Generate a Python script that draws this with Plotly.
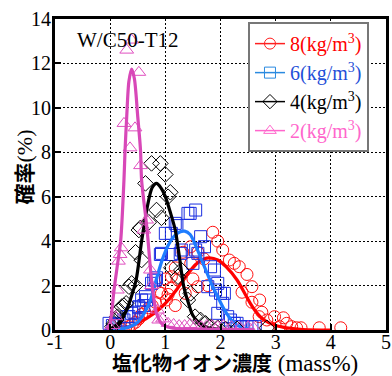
import plotly.graph_objects as go

# ---- data ----
red_x = [0.20,0.28,0.34,0.40,0.46,0.52,0.57,0.63,0.70,0.76,0.82,0.88,0.93,1.00,1.02,1.05,1.11,1.11,1.18,1.18,1.23,1.32,1.36,1.46,1.46,1.50,1.59,1.59,1.70,1.77,1.86,1.95,2.04,2.16,2.25,2.34,2.39,2.48,2.57,2.57,2.71,2.70,2.75,2.84,2.98,3.07,3.14,3.20,3.29,3.38,3.46,3.79,4.18]
red_y = [0.05,0.10,0.15,0.25,0.35,0.50,0.70,0.80,1.00,1.10,1.25,1.70,1.65,2.30,1.35,1.60,1.90,2.40,2.80,1.10,2.25,3.50,1.65,3.75,3.00,2.30,3.50,1.95,3.20,2.00,4.40,4.00,3.60,3.15,3.00,2.85,1.70,2.50,1.95,1.25,1.35,0.60,0.80,0.45,0.60,0.15,0.55,0.30,0.15,0.10,0.10,0.10,0.10]

blue_x = [-0.02,0.04,0.10,0.16,0.25,0.30,0.34,0.39,0.43,0.52,0.52,0.57,0.61,0.64,0.66,0.75,0.79,0.82,0.84,0.91,0.93,1.00,1.11,1.11,1.18,1.21,1.27,1.29,1.41,1.45,1.50,1.55,1.55,1.59,1.64,1.71,1.77,1.82,1.89,1.91,1.95,1.95,2.00,2.04,2.07,2.13,2.18,2.25,2.30,2.36,2.39,2.48,2.57,2.63]
blue_y = [0.30,0.20,0.25,0.30,0.45,0.60,0.60,0.75,0.80,1.00,1.05,1.35,1.10,1.50,1.35,2.10,2.25,2.25,2.35,3.40,3.45,4.35,4.35,3.40,4.80,4.70,3.45,3.60,5.25,5.25,3.00,5.40,3.60,3.45,4.20,3.75,1.95,2.85,2.70,1.80,2.10,0.75,1.65,1.20,1.65,0.60,0.45,0.30,0.30,0.15,0.15,0.15,0.15,0.15]

black_x = [0.04,0.07,0.11,0.13,0.16,0.21,0.25,0.29,0.34,0.39,0.46,0.46,0.52,0.55,0.57,0.64,0.70,0.75,0.84,0.91,0.93,1.00,1.05,1.09,1.11,1.23,1.29,1.41,1.46,1.54,1.64,1.73,1.82,1.95,2.09,2.30,2.84]
black_y = [0.15,0.30,0.45,0.60,0.90,1.05,1.10,1.20,1.95,2.10,2.00,3.50,4.50,4.60,3.15,6.60,4.85,7.50,5.40,7.50,5.05,7.00,6.00,6.20,2.80,2.40,2.70,1.35,1.65,0.60,0.45,0.30,0.15,0.10,0.05,0.05,0.10]

pink_x = [0.00,0.05,0.10,0.13,0.15,0.18,0.20,0.25,0.30,0.36,0.39,0.45,0.52,0.55,0.61,0.66,0.73,0.75,0.86,0.88,0.95,1.05,1.15,1.25,1.35,1.45,1.55,1.65,1.75,1.85,1.95,2.05,2.20,2.35,2.50,2.60]
pink_y = [0.10,0.20,0.60,1.80,3.10,3.40,3.70,9.30,12.60,8.20,13.05,9.10,11.60,7.40,4.50,4.95,2.70,2.00,0.90,0.45,0.50,0.30,0.25,0.20,0.20,0.25,0.20,0.15,0.20,0.20,0.15,0.20,0.15,0.10,0.15,0.10]

# fitted curves
red_fx = [0.0,0.2,0.5,0.8,1.0,1.2,1.4,1.55,1.7,1.8,1.95,2.1,2.3,2.45,2.54,2.65,2.79,3.0,3.2,3.5,4.0]
red_fy = [0.0,0.05,0.3,0.75,1.2,1.8,2.5,2.95,3.2,3.25,3.15,2.85,2.25,1.6,1.2,0.8,0.45,0.2,0.1,0.02,0.0]

blue_fx = [0.0,0.3,0.5,0.65,0.75,0.85,0.95,1.05,1.15,1.25,1.35,1.45,1.55,1.65,1.75,1.85,1.95,2.05,2.15,2.25,2.4,2.6]
blue_fy = [0.0,0.1,0.35,0.9,1.5,2.4,3.2,3.8,4.2,4.4,4.45,4.3,3.8,3.2,2.6,2.0,1.5,1.0,0.6,0.3,0.1,0.02]

black_fx = [0.0,0.15,0.27,0.37,0.47,0.57,0.67,0.76,0.84,0.92,1.0,1.09,1.18,1.26,1.33,1.42,1.5,1.6,1.77,2.0,2.5]
black_fy = [0.05,0.3,0.75,1.4,2.25,4.0,5.5,6.4,6.6,6.4,6.0,5.3,4.5,3.2,2.0,1.2,0.65,0.35,0.1,0.03,0.0]

pink_fx = [-0.05,0.0,0.07,0.13,0.19,0.25,0.27,0.30,0.34,0.39,0.44,0.50,0.55,0.57,0.67,0.75,0.84,0.93,1.1,1.5,2.6]
pink_fy = [0.0,0.3,1.8,2.9,4.0,6.75,8.1,9.6,11.2,11.75,11.3,9.6,8.1,6.75,4.5,2.25,0.75,0.3,0.1,0.05,0.02]

x_ticks = [-1, 0, 1, 2, 3, 4, 5]
y_ticks = [0, 2, 4, 6, 8, 10, 12, 14]

series = [
    dict(name="8(kg/m<sup>3</sup>)", x=red_x, y=red_y, fx=red_fx, fy=red_fy, sym="circle-open",
         mc="#ff1010", lc="#ff0000", legc="#ff2020", tc="#ff0000"),
    dict(name="6(kg/m<sup>3</sup>)", x=blue_x, y=blue_y, fx=blue_fx, fy=blue_fy, sym="square-open",
         mc="#1a2ee0", lc="#1f7dff", legc="#2a8ae0", tc="#1f4fd8"),
    dict(name="4(kg/m<sup>3</sup>)", x=black_x, y=black_y, fx=black_fx, fy=black_fy, sym="diamond-open",
         mc="#000000", lc="#000000", legc="#000000", tc="#000000"),
    dict(name="2(kg/m<sup>3</sup>)", x=pink_x, y=pink_y, fx=pink_fx, fy=pink_fy, sym="triangle-up-open",
         mc="#e050c0", lc="#d848b8", legc="#ff66cc", tc="#ff66cc"),
]

fig = go.Figure()
for s in series:
    fig.add_trace(go.Scatter(x=s["x"], y=s["y"], mode="markers", showlegend=False,
                             marker=dict(symbol=s["sym"], size=12, color=s["mc"], line=dict(width=1, color=s["mc"]))))
    fig.add_trace(go.Scatter(x=s["fx"], y=s["fy"], mode="lines", showlegend=False,
                             line=dict(color=s["lc"], width=3.2, shape="spline", smoothing=0.8)))
for s in series:
    fig.add_trace(go.Scatter(x=[None], y=[None], mode="lines+markers",
                             name='<span style="color:%s">%s</span>' % (s["tc"], s["name"]),
                             marker=dict(symbol=s["sym"], size=11, color=s["legc"], line=dict(width=1, color=s["legc"])),
                             line=dict(color=s["legc"], width=1.5)))

serif = "Liberation Serif"
cjk = "Noto Sans CJK JP"

axis_common = dict(showline=True, linewidth=3, linecolor="black", mirror=True,
                   showgrid=True, gridcolor="black", gridwidth=1, griddash="2px,2px",
                   zeroline=False, ticks="inside", ticklen=6, tickwidth=2, tickcolor="black",
                   tickfont=dict(family=serif, size=20, color="black"))

fig.update_xaxes(range=[-1, 5], tickvals=x_ticks, ticktext=[str(v) for v in x_ticks],
                 ticklabeloverflow="allow", ticklabelstandoff=-8, **axis_common)
fig.update_yaxes(range=[0, 14], tickvals=y_ticks, ticktext=[str(v) for v in y_ticks],
                 ticklabelstandoff=-3, **axis_common)

fig.update_layout(
    width=392, height=376,
    margin=dict(l=55, r=1, t=19, b=46),
    paper_bgcolor="white", plot_bgcolor="white",
    legend=dict(x=0.583, y=0.99, xanchor="left", yanchor="top",
                bgcolor="white", bordercolor="#777777", borderwidth=2,
                font=dict(family=serif, size=20, color="black"), itemwidth=30),
    annotations=[
        dict(text="W/C50-T12", x=(129 - 55) / 336, y=(330 - 39.5) / 311, xref="paper", yref="paper",
             xanchor="center", yanchor="middle",
             showarrow=False, font=dict(family=serif, size=21, color="black")),
        dict(text='<b>塩化物イオン濃度</b><span style="font-family:Liberation Serif;font-size:23px"> (mass%)</span>',
             x=(237.5 - 55) / 336, y=(330 - 362.5) / 311, xref="paper", yref="paper",
             xanchor="center", yanchor="middle", showarrow=False,
             font=dict(family=cjk, size=20, color="black")),
        dict(text='<b>確率</b><span style="font-family:Liberation Serif;font-size:22px">(%)</span>',
             x=(23 - 55) / 336, y=(330 - 167) / 311, xref="paper", yref="paper", textangle=-90,
             xanchor="center", yanchor="middle", showarrow=False,
             font=dict(family=cjk, size=21, color="black")),
    ],
)

fig.write_html("out.html", config={"displayModeBar": False},
               post_script="document.body.style.margin='0px';document.body.style.overflow='hidden';")
